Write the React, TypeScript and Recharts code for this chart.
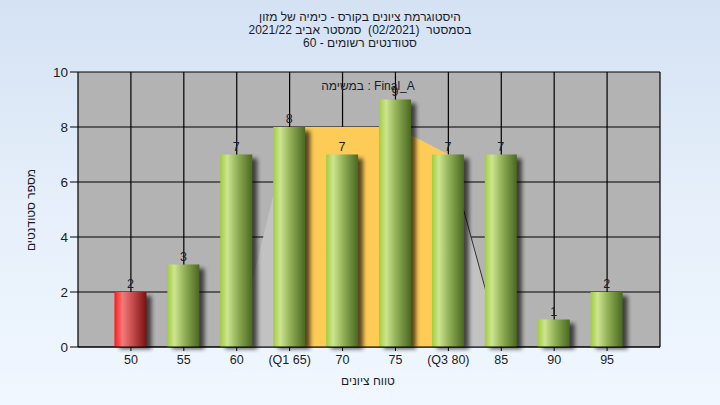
import React from "react";
import {
  ComposedChart,
  Bar,
  Area,
  XAxis,
  YAxis,
  CartesianGrid,
  LabelList,
} from "recharts";

const grades = [50, 55, 60, 65, 70, 75, 80, 85, 90, 95];
const counts = [2, 3, 7, 8, 7, 9, 7, 7, 1, 2];
const tickLabels = ["50", "55", "60", "(Q1 65)", "70", "75", "(Q3 80)", "85", "90", "95"];
// whisker (light grey) polygon and inter-quartile (yellow) polygon
const whiskerValues: (number | null)[] = [null, null, 0, 8, 8, 8, 7, 0, null, null];
const boxValues: (number | null)[] = [null, null, null, 8, 8, 8, 7, null, null, null];
const whiskerLineValues: (number | null)[] = [null, null, null, null, null, null, 7, 0, null, null];
const failGrades = [50];
const yTicks = [0, 2, 4, 6, 8, 10];

const titleLines = [
  "היסטוגרמת ציונים בקורס - כימיה של מזון",
  "בסמסטר  (02/2021)  סמסטר אביב 2021/22",
  "סטודנטים רשומים - 60",
];
const taskLabel = "במשימה : Final_A";
const xTitle = "טווח ציונים";
const yTitle = "מספר סטודנטים";

const data = grades.map((g, i) => ({
  grade: g,
  count: counts[i],
  whisker: whiskerValues[i],
  box: boxValues[i],
  wline: whiskerLineValues[i],
}));

const FONT = "'Liberation Sans', 'DejaVu Sans', Arial, sans-serif";
const TEXT = "#1c1c28";

const BarShape = (props: any) => {
  const { x, y, width, height, payload } = props;
  if (!height || height <= 0) return null;
  const red = failGrades.includes(payload?.grade);
  return (
    <g>
      <rect
        x={x + 5}
        y={y + 4}
        width={width}
        height={height - 2}
        fill="#000"
        opacity={0.65}
        filter="url(#barShadow)"
      />
      <rect x={x} y={y} width={width} height={height} fill={red ? "url(#redGrad)" : "url(#greenGrad)"} />
    </g>
  );
};

export default function App() {
  return (
    <div
      style={{
        position: "absolute",
        left: 0,
        top: 0,
        width: 720,
        height: 405,
        background: "linear-gradient(180deg, #d4e2f4 0%, #e6effa 50%, #f0f7ff 100%)",
        fontFamily: FONT,
      }}
    >
      <svg width={720} height={60} style={{ position: "absolute", left: 0, top: 0 }}>
        {titleLines.map((t, i) => (
          <text
            key={i}
            x={360}
            y={21 + i * 13}
            textAnchor="middle"
            fontSize={12}
            fill={TEXT}
            fontFamily={FONT}
            style={{ direction: "rtl", unicodeBidi: "embed", whiteSpace: "pre" } as any}
          >
            {t}
          </text>
        ))}
      </svg>
      <ComposedChart
        width={720}
        height={405}
        data={data}
        margin={{ top: 72, right: 20, bottom: 28, left: 38 }}
        style={{ position: "absolute", left: 0, top: 0 }}
      >
        <defs>
          <linearGradient id="greenGrad" x1="0" y1="0" x2="1" y2="0">
            <stop offset="0%" stopColor="#a2cc3c" />
            <stop offset="22%" stopColor="#cde590" />
            <stop offset="55%" stopColor="#8fae55" />
            <stop offset="100%" stopColor="#4a6820" />
          </linearGradient>
          <linearGradient id="redGrad" x1="0" y1="0" x2="1" y2="0">
            <stop offset="0%" stopColor="#ff1a1a" />
            <stop offset="25%" stopColor="#f27a7a" />
            <stop offset="60%" stopColor="#c04848" />
            <stop offset="100%" stopColor="#7a1010" />
          </linearGradient>
          <filter id="barShadow" x="-30%" y="-10%" width="160%" height="130%">
            <feGaussianBlur stdDeviation="2" />
          </filter>
        </defs>
        <CartesianGrid
          yAxisId="left"
          stroke="#000"
          strokeWidth={1.2}
          fill="#b3b3b3"
          fillOpacity={1}
          horizontalValues={yTicks}
          verticalValues={grades}
        />
        <XAxis
          dataKey="grade"
          type="number"
          domain={[45, 100]}
          ticks={grades}
          tickFormatter={(v: number) => tickLabels[grades.indexOf(v)] ?? String(v)}
          axisLine={{ stroke: "#000", strokeWidth: 1.2 }}
          tickLine={{ stroke: "#000" }}
          tickSize={4}
          tickMargin={4}
          height={30}
          interval={0}
          tick={{ fill: TEXT, fontSize: 12.5, fontFamily: FONT }}
          allowDataOverflow
        />
        <YAxis
          yAxisId="left"
          domain={[0, 10]}
          ticks={yTicks}
          width={40}
          axisLine={{ stroke: "#000", strokeWidth: 1.2 }}
          tickLine={{ stroke: "#000" }}
          tickSize={8}
          tickMargin={2}
          tick={{ fill: TEXT, fontSize: 13.5, fontFamily: FONT }}
          interval={0}
        />
        <YAxis
          yAxisId="right"
          orientation="right"
          domain={[0, 10]}
          ticks={yTicks}
          width={40}
          axisLine={{ stroke: "#000", strokeWidth: 1.2 }}
          tickLine={{ stroke: "#000" }}
          tickSize={8}
          tickMargin={2}
          tick={{ fill: TEXT, fontSize: 13.5, fontFamily: FONT, textAnchor: "start" }}
          interval={0}
        />
        <Area
          yAxisId="left"
          type="linear"
          dataKey="whisker"
          stroke="none"
          fill="#c2c2c2"
          fillOpacity={1}
          isAnimationActive={false}
          dot={false}
          activeDot={false}
        />
        <Area
          yAxisId="left"
          type="linear"
          dataKey="box"
          stroke="none"
          fill="#ffcb57"
          fillOpacity={1}
          isAnimationActive={false}
          dot={false}
          activeDot={false}
        />
        <Area
          yAxisId="left"
          type="linear"
          dataKey="wline"
          stroke="#333"
          strokeWidth={1}
          fill="none"
          fillOpacity={0}
          dot={false}
          activeDot={false}
          isAnimationActive={false}
        />
        <Bar yAxisId="left" dataKey="count" barSize={32} shape={<BarShape />} isAnimationActive={false}>
          <LabelList dataKey="count" position="top" offset={4} fill={TEXT} fontSize={12.5} fontFamily={FONT} />
        </Bar>
      </ComposedChart>
      <svg width={720} height={405} style={{ position: "absolute", left: 0, top: 0, pointerEvents: "none" }}>
        <text x={368} y={90} textAnchor="middle" fontSize={12} fill={TEXT} fontFamily={FONT}>
          {taskLabel}
        </text>
        <text
          x={368}
          y={385}
          textAnchor="middle"
          fontSize={12}
          fill={TEXT}
          fontFamily={FONT}
          style={{ direction: "rtl", unicodeBidi: "embed" } as any}
        >
          {xTitle}
        </text>
        <text
          x={0}
          y={0}
          transform="translate(35,210) rotate(-90)"
          textAnchor="middle"
          fontSize={12}
          fill={TEXT}
          fontFamily={FONT}
          style={{ direction: "rtl", unicodeBidi: "embed" } as any}
        >
          {yTitle}
        </text>
      </svg>
    </div>
  );
}
